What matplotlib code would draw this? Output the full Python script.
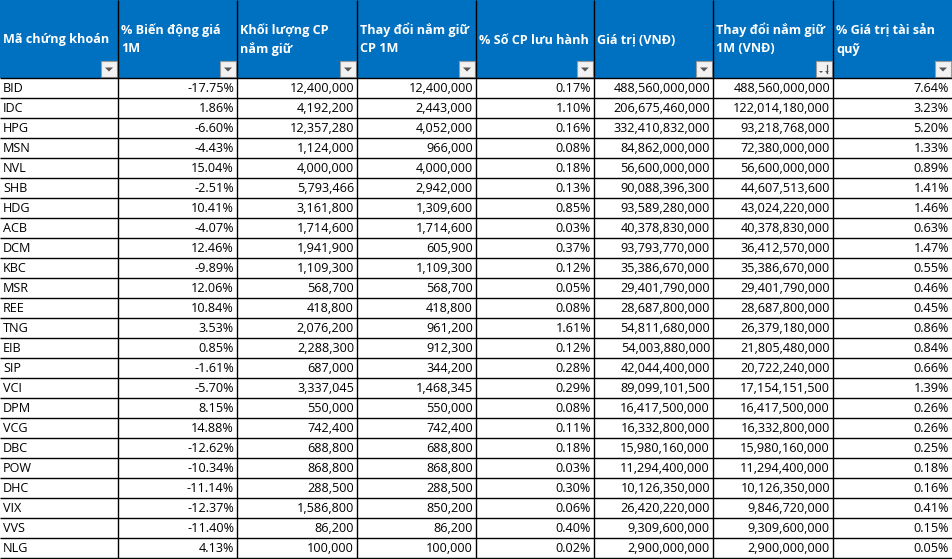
import matplotlib
matplotlib.use("Agg")
import matplotlib.pyplot as plt
from matplotlib.patches import Rectangle, Polygon

plt.rcParams['font.family'] = ['Open Sans', 'DejaVu Sans']

# Table data
headers = ["Mã chứng khoán", "% Biến động giá\n1M", "Khối lượng CP\nnắm giữ",
           "Thay đổi nắm giữ\nCP 1M", "% Số CP lưu hành", "Giá trị (VNĐ)",
           "Thay đổi nắm giữ\n1M (VNĐ)", "% Giá trị tài sản\nquỹ"]

tickers = ["BID", "IDC", "HPG", "MSN", "NVL", "SHB", "HDG", "ACB", "DCM", "KBC",
           "MSR", "REE", "TNG", "EIB", "SIP", "VCI", "DPM", "VCG", "DBC", "POW",
           "DHC", "VIX", "VVS", "NLG"]
price_chg = [-17.75, 1.86, -6.60, -4.43, 15.04, -2.51, 10.41, -4.07, 12.46, -9.89,
             12.06, 10.84, 3.53, 0.85, -1.61, -5.70, 8.15, 14.88, -12.62, -10.34,
             -11.14, -12.37, -11.40, 4.13]
shares_held = [12400000, 4192200, 12357280, 1124000, 4000000, 5793466, 3161800,
               1714600, 1941900, 1109300, 568700, 418800, 2076200, 2288300, 687000,
               3337045, 550000, 742400, 688800, 868800, 288500, 1586800, 86200, 100000]
shares_chg = [12400000, 2443000, 4052000, 966000, 4000000, 2942000, 1309600,
              1714600, 605900, 1109300, 568700, 418800, 961200, 912300, 344200,
              1468345, 550000, 742400, 688800, 868800, 288500, 850200, 86200, 100000]
pct_outstanding = [0.17, 1.10, 0.16, 0.08, 0.18, 0.13, 0.85, 0.03, 0.37, 0.12,
                   0.05, 0.08, 1.61, 0.12, 0.28, 0.29, 0.08, 0.11, 0.18, 0.03,
                   0.30, 0.06, 0.40, 0.02]
value_vnd = [488560000000, 206675460000, 332410832000, 84862000000, 56600000000,
             90088396300, 93589280000, 40378830000, 93793770000, 35386670000,
             29401790000, 28687800000, 54811680000, 54003880000, 42044400000,
             89099101500, 16417500000, 16332800000, 15980160000, 11294400000,
             10126350000, 26420220000, 9309600000, 2900000000]
value_chg_vnd = [488560000000, 122014180000, 93218768000, 72380000000, 56600000000,
                 44607513600, 43024220000, 40378830000, 36412570000, 35386670000,
                 29401790000, 28687800000, 26379180000, 21805480000, 20722240000,
                 17154151500, 16417500000, 16332800000, 15980160000, 11294400000,
                 10126350000, 9846720000, 9309600000, 2900000000]
pct_nav = [7.64, 3.23, 5.20, 1.33, 0.89, 1.41, 1.46, 0.63, 1.47, 0.55,
           0.46, 0.45, 0.86, 0.84, 0.66, 1.39, 0.26, 0.26, 0.25, 0.18,
           0.16, 0.41, 0.15, 0.05]

# Layout (pixels)
W, H = 952, 559
col_edges = [0, 118, 237, 357, 476, 594, 713, 833, 953]
header_h = 78
row_h = 20
header_blue = '#0070C0'

fig = plt.figure(figsize=(W / 100, H / 100), dpi=100)
ax = fig.add_axes([0, 0, 1, 1])
ax.set_xlim(0, W)
ax.set_ylim(H, 0)
ax.axis('off')

# Header background
ax.add_patch(Rectangle((0, 0), W, header_h, facecolor=header_blue, edgecolor='none'))

fs = 9.1
for j, h in enumerate(headers):
    x0 = col_edges[j] + 3
    lines = h.split("\n")
    if len(lines) == 1:
        ax.text(x0, 40, lines[0], color='white', fontsize=fs, fontweight='bold',
                ha='left', va='center')
    else:
        ax.text(x0, 30, lines[0], color='white', fontsize=fs, fontweight='bold',
                ha='left', va='center')
        ax.text(x0, 49, lines[1], color='white', fontsize=fs, fontweight='bold',
                ha='left', va='center')
    # filter drop-down button
    bx1 = min(col_edges[j + 1] - 1, W - 1)
    bx0 = bx1 - 16
    by0, by1 = 61, 77
    ax.add_patch(Rectangle((bx0, by0), 16, 16, facecolor='#F2F2F2',
                           edgecolor='#9A9A9A', linewidth=0.8))
    cx, cy = (bx0 + bx1) / 2, (by0 + by1) / 2
    if j == 6:
        ax.add_patch(Polygon([[cx - 5, cy + 2], [cx - 1, cy + 2], [cx - 3, cy + 4]],
                             closed=True, facecolor='#555555', edgecolor='none'))
        ax.plot([cx + 3, cx + 3], [cy - 4, cy + 4], color='#555555', linewidth=0.9)
        ax.add_patch(Polygon([[cx + 1.2, cy + 2], [cx + 4.8, cy + 2], [cx + 3, cy + 4.5]],
                             closed=True, facecolor='#555555', edgecolor='none'))
    else:
        ax.add_patch(Polygon([[cx - 4, cy - 1.5], [cx + 4, cy - 1.5], [cx, cy + 2.5]],
                             closed=True, facecolor='#555555', edgecolor='none'))

# Body rows
for i, t in enumerate(tickers):
    yc = header_h + row_h * i + row_h / 2 + 0.5
    cells = [t,
             f"{price_chg[i]:.2f}%",
             f"{shares_held[i]:,}",
             f"{shares_chg[i]:,}",
             f"{pct_outstanding[i]:.2f}%",
             f"{value_vnd[i]:,}",
             f"{value_chg_vnd[i]:,}",
             f"{pct_nav[i]:.2f}%"]
    for j, c in enumerate(cells):
        if j == 0:
            ax.text(col_edges[0] + 3, yc, c, fontsize=fs, color='black',
                    ha='left', va='center')
        else:
            ax.text(min(col_edges[j + 1], W) - 3, yc, c, fontsize=fs, color='black',
                    ha='right', va='center')

# Grid lines
n = len(tickers)
for i in range(n + 1):
    y = header_h + row_h * i
    ax.plot([0, W], [y, y], color='black', linewidth=1.0, solid_capstyle='butt')
for x in col_edges[1:-1]:
    ax.plot([x, x], [0, header_h + row_h * n], color='black', linewidth=1.0,
            solid_capstyle='butt')

fig.savefig('out.png', dpi=100)
